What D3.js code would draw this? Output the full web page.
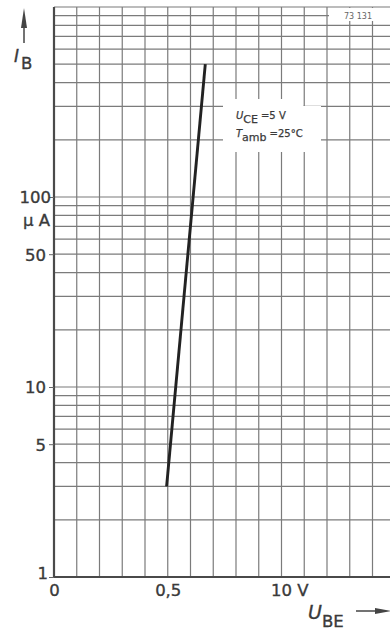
<!DOCTYPE html>
<html>
<head>
<meta charset="utf-8">
<script src="https://cdn.jsdelivr.net/npm/d3@7"></script>
<style>
  html, body { margin: 0; padding: 0; background: #fff; }
  svg { display: block; font-family: "DejaVu Sans", "Liberation Sans", sans-serif; }
  .ink { stroke: #3a3a3a; stroke-width: 0.35px; }
</style>
</head>
<body>
<svg id="chart" width="390" height="632"></svg>
<script>
// Base current I_B versus base-emitter voltage U_BE (log current scale)
const voltDomain = [0, 1.5];
const currentDomain = [1, 1000];
const voltTicks = [0, 0.5, 1.0];
const voltTickLabels = ["0", "0,5", "10 V"];
const currentTicks = [1, 5, 10, 50, 100];
const currentTickLabels = ["1", "5", "10", "50", "100"];
const voltGridStep = 0.1;
const gridMantissas = [1, 2, 3, 4, 5, 6, 7, 8, 9];
const gridDecades = [1, 10, 100];
const curveVolts = [0.495, 0.665];
const curveCurrents = [3, 500];

const svg = d3.select("#chart");
const plotLeft = 54, plotTop = 7, plotBottom = 577;
const pxPerVolt = 227.5;

const x = d3.scaleLinear().domain(voltDomain).range([plotLeft, plotLeft + pxPerVolt * voltDomain[1]]);
const y = d3.scaleLog().domain(currentDomain).range([plotBottom, plotTop]);

const gridColor = "#7b7b7b";
const inkColor = "#3a3a3a";

// grid
const grid = svg.append("g");
const xGrid = d3.range(voltDomain[0] + voltGridStep, voltDomain[1] + 1e-9, voltGridStep);
grid.selectAll("line.v").data(xGrid).join("line")
  .attr("class", "v")
  .attr("x1", d => x(d)).attr("x2", d => x(d))
  .attr("y1", y(currentDomain[1])).attr("y2", y(currentDomain[0]))
  .attr("stroke", gridColor).attr("stroke-width", 1.2);

const yGrid = gridDecades.flatMap(dec => gridMantissas.map(m => m * dec)).concat([currentDomain[1]]);
grid.selectAll("line.h").data(yGrid).join("line")
  .attr("class", "h")
  .attr("x1", x(voltDomain[0])).attr("x2", x(voltDomain[1]))
  .attr("y1", d => y(d)).attr("y2", d => y(d))
  .attr("stroke", gridColor).attr("stroke-width", 1.2);

// white label fields inside the grid
svg.append("path")
  .attr("d", "M223,99 L303,99 L303,106 L321,106 L321,152 L223,152 Z")
  .attr("fill", "#fff");
svg.append("rect").attr("x", 329).attr("y", 8).attr("width", 61).attr("height", 13).attr("fill", "#fff");
svg.append("text").attr("x", 358).attr("y", 19).attr("text-anchor", "middle")
  .attr("font-size", 8).attr("fill", "#666").text("73 131");

// axes frame lines
svg.append("line").attr("x1", x(0)).attr("x2", x(0)).attr("y1", y(1000)).attr("y2", y(1))
  .attr("stroke", "#4a4a4a").attr("stroke-width", 2.2);
svg.append("line").attr("x1", x(0)).attr("x2", x(voltDomain[1])).attr("y1", y(1)).attr("y2", y(1))
  .attr("stroke", "#4a4a4a").attr("stroke-width", 2.2);

// y axis
const yAxis = d3.axisLeft(y)
  .tickValues(currentTicks)
  .tickFormat((d, i) => currentTickLabels[i])
  .tickSize(5).tickPadding(3);
const gy = svg.append("g").attr("transform", `translate(${plotLeft},0)`).call(yAxis);
gy.select(".domain").remove();
gy.selectAll(".tick line").attr("stroke", "#666").attr("stroke-width", 1);
gy.selectAll(".tick text")
  .attr("class", "ink")
  .attr("font-size", 16.5).attr("fill", inkColor)
  .attr("font-family", "DejaVu Sans, sans-serif")
  .attr("dy", "0.36em")
  .attr("x", d => d === 100 ? -3 : -8);
gy.selectAll(".tick").filter(d => d === 1).select("text").attr("dy", "0.1em").attr("x", -6);

// unit below 100
svg.append("text").attr("class", "ink").attr("x", 50).attr("y", y(100) + 29).attr("text-anchor", "end")
  .attr("font-size", 16.5).attr("fill", inkColor).text("µ A");

// x axis
const xAxis = d3.axisBottom(x)
  .tickValues(voltTicks)
  .tickFormat((d, i) => voltTickLabels[i])
  .tickSize(0).tickPadding(7);
const gx = svg.append("g").attr("transform", `translate(0,${plotBottom})`).call(xAxis);
gx.select(".domain").remove();
gx.selectAll(".tick text")
  .attr("class", "ink")
  .attr("font-size", 16.5).attr("fill", inkColor)
  .attr("font-family", "DejaVu Sans, sans-serif");
gx.selectAll(".tick").filter(d => d === 1.0).select("text")
  .attr("text-anchor", "start").attr("x", -11);

// characteristic curve
const line = d3.line().x((d, i) => x(curveVolts[i])).y((d, i) => y(curveCurrents[i]));
svg.append("path")
  .datum(curveVolts)
  .attr("d", line)
  .attr("fill", "none").attr("stroke", "#222").attr("stroke-width", 2.9);

// conditions
const cond = svg.append("g").attr("fill", inkColor).attr("font-size", 11)
  .attr("stroke", inkColor).attr("stroke-width", 0.25);
const c1 = cond.append("text").attr("x", 236).attr("y", 119);
c1.append("tspan").attr("font-style", "italic").attr("font-size", 10).text("U");
c1.append("tspan").attr("dy", 4).text("CE");
c1.append("tspan").attr("dy", -4).attr("dx", 3).attr("font-size", 10).text("=5 V");
const c2 = cond.append("text").attr("x", 236).attr("y", 137);
c2.append("tspan").attr("font-style", "italic").attr("font-size", 10).text("T");
c2.append("tspan").attr("dy", 4).text("amb");
c2.append("tspan").attr("dy", -4).attr("dx", 3).attr("font-size", 10).text("=25°C");

// axis titles with arrows
const yt = svg.append("text").attr("class", "ink").attr("x", 14).attr("y", 62).attr("fill", inkColor).attr("font-size", 17);
yt.append("tspan").attr("font-style", "italic").text("I");
yt.append("tspan").attr("dy", 7).attr("dx", 2).attr("font-size", 16.5).text("B");
svg.append("line").attr("x1", 24).attr("x2", 24).attr("y1", 43).attr("y2", 20)
  .attr("stroke", "#444").attr("stroke-width", 1.5);
svg.append("path").attr("d", "M24,8 L27,28 L21,28 Z").attr("fill", "#444");

const xt = svg.append("text").attr("class", "ink").attr("x", 308).attr("y", 619).attr("fill", inkColor).attr("font-size", 19);
xt.append("tspan").attr("font-style", "italic").text("U");
xt.append("tspan").attr("dy", 8).attr("font-size", 16.5).text("BE");
svg.append("line").attr("x1", 356).attr("x2", 380).attr("y1", 611).attr("y2", 611)
  .attr("stroke", "#444").attr("stroke-width", 1.5);
svg.append("path").attr("d", "M392,611 L375,608 L375,614 Z").attr("fill", "#444");
</script>
</body>
</html>
